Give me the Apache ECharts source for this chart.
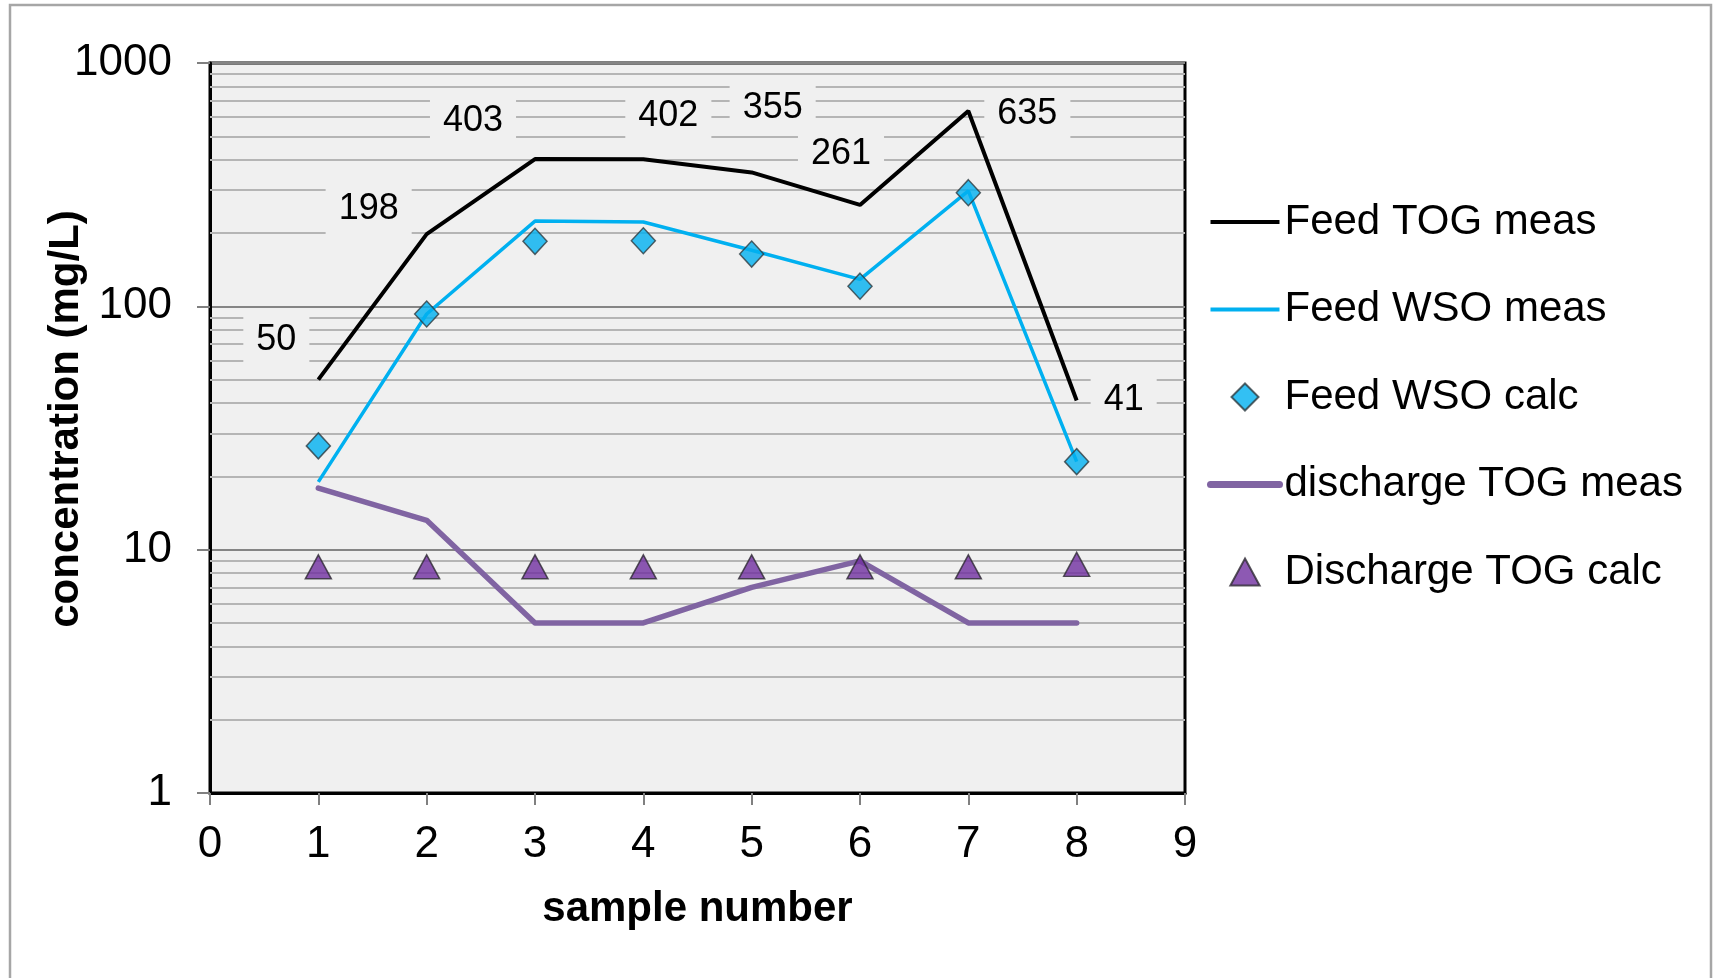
<!DOCTYPE html>
<html>
<head>
<meta charset="utf-8">
<style>
  html, body { margin: 0; padding: 0; background: #ffffff; }
  #chart { width: 1717px; height: 978px; }
</style>
<script src="https://cdn.jsdelivr.net/npm/echarts@6/dist/echarts.min.js"></script>
</head>
<body>
<div id="chart"></div>
<script>
// Sample numbers along the x axis
const sampleNumbers = [1, 2, 3, 4, 5, 6, 7, 8];

// Concentrations (mg/L)
const feedTogMeas      = [50, 198, 403, 402, 355, 261, 635, 41];
const feedWsoMeas      = [19, 93, 224, 222, 170, 129, 298, 23];
const feedWsoCalc      = [26.7, 93, 185, 186, 164, 121, 293, 23];
const dischargeTogMeas = [17.9, 13.2, 5, 5, 7, 9, 5, 5];
const dischargeTogCalc = [8.5, 8.5, 8.5, 8.5, 8.5, 8.5, 8.5, 8.7];

// Axis ticks
const xTicks = [0, 1, 2, 3, 4, 5, 6, 7, 8, 9];
const yMajorTicks = [1, 10, 100, 1000];
const yMinorGrid = [2, 3, 4, 5, 6, 7, 8, 9, 20, 30, 40, 50, 60, 70, 80, 90, 200, 300, 400, 500, 600, 700, 800, 900];

const seriesNames = ['Feed TOG meas', 'Feed WSO meas', 'Feed WSO calc', 'discharge TOG meas', 'Discharge TOG calc'];

// Placement of the value labels on the Feed TOG line (text centre relative to the point)
const tagOffsets = [[-42, -40], [-58, -25], [-62, -38], [25, -43], [21, -64], [-19, -51], [59, 3], [47, 0]];

const FONT = 'Liberation Sans, Arial, sans-serif';
const pairs = (ys) => sampleNumbers.map((x, i) => [x, ys[i]]);

// legend glyphs that keep their proportions inside the legend box
const DIAMOND_ICON = 'path://M13,0 L26,13 L13,26 L0,13 Z';
const TRIANGLE_ICON = 'path://M13,0 L26,24 L0,24 Z';

const chart = echarts.init(document.getElementById('chart'), null, { renderer: 'canvas' });

chart.setOption({
  animation: false,
  backgroundColor: '#ffffff',
  textStyle: { fontFamily: FONT },
  grid: {
    left: 210, right: 532, top: 63, bottom: 185,
    show: true,
    backgroundColor: '#f0f0f0',
    borderColor: '#000000',
    borderWidth: 3
  },
  graphic: [
    {
      type: 'rect', z: -10, silent: true,
      shape: { x: 10, y: 5, width: 1701, height: 1010 },
      style: { fill: 'none', stroke: '#a6a6a6', lineWidth: 2.5 }
    },
    {
      type: 'text', silent: true,
      x: 66, y: 419, rotation: Math.PI / 2,
      style: {
        text: 'concentration (mg/L)',
        fontFamily: FONT, fontSize: 42, fontWeight: 'bold',
        fill: '#000000', align: 'center', verticalAlign: 'middle'
      }
    }
  ],
  legend: {
    orient: 'vertical',
    left: 1202, top: 196,
    itemWidth: 69, itemHeight: 27, itemGap: 45.5,
    selectedMode: false,
    symbolKeepAspect: true,
    textStyle: { fontFamily: FONT, fontSize: 42, color: '#000000' },
    data: [
      { name: seriesNames[0], itemStyle: { opacity: 0 }, lineStyle: { width: 4 } },
      { name: seriesNames[1], itemStyle: { opacity: 0 }, lineStyle: { width: 4 } },
      { name: seriesNames[2], icon: DIAMOND_ICON },
      { name: seriesNames[3], itemStyle: { opacity: 0 }, lineStyle: { width: 7, cap: 'round' } },
      { name: seriesNames[4], icon: TRIANGLE_ICON }
    ]
  },
  xAxis: {
    type: 'value',
    min: xTicks[0], max: xTicks[xTicks.length - 1], interval: 1,
    name: 'sample number',
    nameLocation: 'middle', nameGap: 95,
    nameTextStyle: { fontFamily: FONT, fontSize: 42, fontWeight: 'bold', color: '#000000' },
    axisLine: { lineStyle: { color: '#000000', width: 3 } },
    axisTick: { show: true, length: 12, lineStyle: { color: '#808080', width: 2 } },
    axisLabel: { fontFamily: FONT, fontSize: 44, color: '#000000', margin: 30 },
    splitLine: { show: false }
  },
  yAxis: {
    type: 'log', logBase: 10,
    min: yMajorTicks[0], max: yMajorTicks[yMajorTicks.length - 1],
    axisLine: { show: true, lineStyle: { color: '#000000', width: 3 } },
    axisTick: { show: true, length: 13, lineStyle: { color: '#808080', width: 2 } },
    axisLabel: { fontFamily: FONT, fontSize: 44, color: '#000000', margin: 38, formatter: (v) => String(Math.round(v)) },
    splitLine: { show: true, lineStyle: { color: '#858585', width: 2 } },
    minorTick: { show: false },
    minorSplitLine: { show: false }
  },
  series: [
    {
      // minor horizontal gridlines at 2..9 of every decade
      type: 'line', name: 'minor grid', data: [], silent: true, z: 1,
      markLine: {
        z: 1, silent: true, animation: false,
        symbol: ['none', 'none'],
        label: { show: false },
        lineStyle: { type: 'solid', color: '#b5b5b5', width: 2 },
        emphasis: { disabled: true },
        data: yMinorGrid.map((v) => ({ yAxis: v }))
      }
    },
    {
      type: 'line', name: seriesNames[3], data: pairs(dischargeTogMeas),
      symbol: 'none', z: 3,
      itemStyle: { color: '#8064a2' },
      lineStyle: { color: '#8064a2', width: 5.5, join: 'round', cap: 'round' }
    },
    {
      type: 'line', name: seriesNames[1], data: pairs(feedWsoMeas),
      symbol: 'none', z: 3,
      itemStyle: { color: '#00b0f0' },
      lineStyle: { color: '#00b0f0', width: 3.5 }
    },
    {
      type: 'line', name: seriesNames[0], data: pairs(feedTogMeas),
      symbol: 'none', z: 3,
      itemStyle: { color: '#000000' },
      lineStyle: { color: '#000000', width: 4 }
    },
    {
      type: 'scatter', name: seriesNames[2], data: pairs(feedWsoCalc),
      symbol: 'diamond', symbolSize: [24, 26], z: 4,
      itemStyle: { color: '#00b0f0', borderColor: '#2e3b40', borderWidth: 1.5 }
    },
    {
      type: 'scatter', name: seriesNames[4], data: pairs(dischargeTogCalc),
      symbol: 'triangle', symbolSize: [26, 24], z: 4,
      itemStyle: { color: '#7030a0', borderColor: '#2e2a33', borderWidth: 1.5 }
    },
    {
      // value labels for Feed TOG meas
      type: 'scatter', name: 'Feed TOG labels', silent: true, z: 6,
      symbol: 'circle', symbolSize: 2,
      itemStyle: { color: 'rgba(0,0,0,0)' },
      data: sampleNumbers.map((x, i) => ({
        value: [x, feedTogMeas[i]],
        label: { position: [1 + tagOffsets[i][0], 1 + tagOffsets[i][1]] }
      })),
      label: {
        show: true,
        align: 'center', verticalAlign: 'middle',
        formatter: (p) => String(p.value[1]),
        fontFamily: FONT, fontSize: 36, color: '#000000', opacity: 1,
        textBorderWidth: 0,
        backgroundColor: '#f0f0f0', padding: [7, 13]
      },
      labelLayout: { hideOverlap: false }
    }
  ]
});
</script>
</body>
</html>
